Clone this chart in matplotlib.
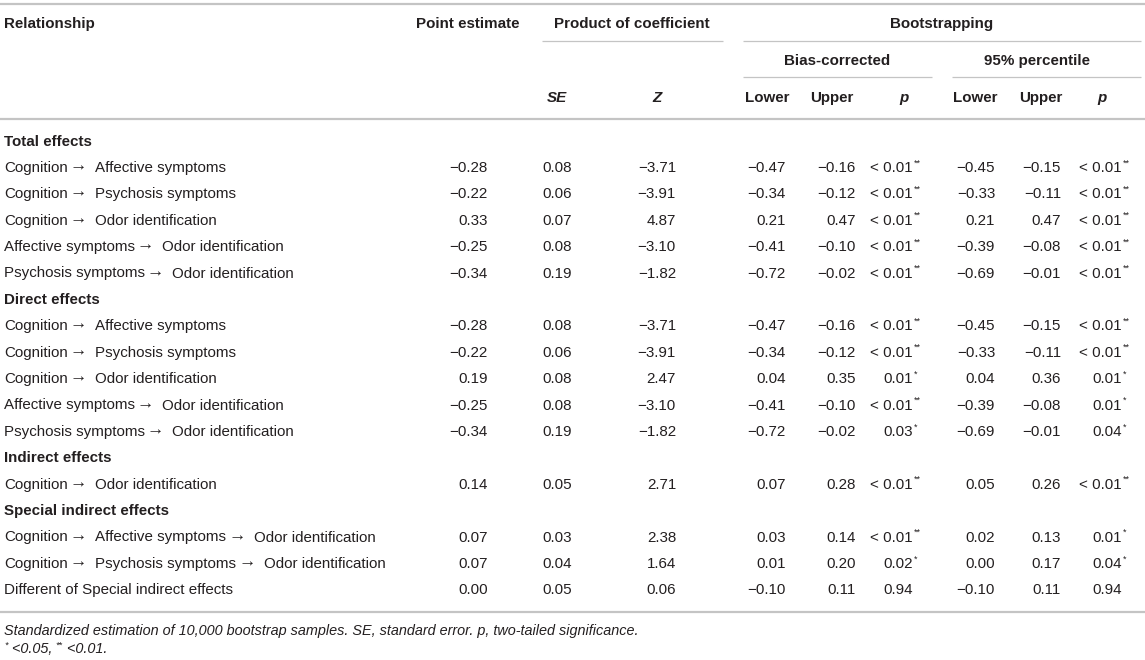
import matplotlib.pyplot as plt

FONT = ["Liberation Sans", "DejaVu Sans"]
plt.rcParams["font.family"] = FONT

TEXT_CLR = "#231f20"
LINE_CLR = "#c4c4c4"

# ---- table data -------------------------------------------------------------
sections = ["Total effects", "Direct effects", "Indirect effects",
            "Special indirect effects"]

relationships = [
    ["Cognition \u2192 Affective symptoms",
     "Cognition \u2192 Psychosis symptoms",
     "Cognition \u2192 Odor identification",
     "Affective symptoms \u2192 Odor identification",
     "Psychosis symptoms \u2192 Odor identification"],
    ["Cognition \u2192 Affective symptoms",
     "Cognition \u2192 Psychosis symptoms",
     "Cognition \u2192 Odor identification",
     "Affective symptoms \u2192 Odor identification",
     "Psychosis symptoms \u2192 Odor identification"],
    ["Cognition \u2192 Odor identification"],
    ["Cognition \u2192 Affective symptoms \u2192 Odor identification",
     "Cognition \u2192 Psychosis symptoms \u2192 Odor identification",
     "Different of Special indirect effects"],
]

point_est = [[-0.28, -0.22, 0.33, -0.25, -0.34],
             [-0.28, -0.22, 0.19, -0.25, -0.34],
             [0.14],
             [0.07, 0.07, 0.00]]
se = [[0.08, 0.06, 0.07, 0.08, 0.19],
      [0.08, 0.06, 0.08, 0.08, 0.19],
      [0.05],
      [0.03, 0.04, 0.05]]
z = [[-3.71, -3.91, 4.87, -3.10, -1.82],
     [-3.71, -3.91, 2.47, -3.10, -1.82],
     [2.71],
     [2.38, 1.64, 0.06]]
bc_lower = [[-0.47, -0.34, 0.21, -0.41, -0.72],
            [-0.47, -0.34, 0.04, -0.41, -0.72],
            [0.07],
            [0.03, 0.01, -0.10]]
bc_upper = [[-0.16, -0.12, 0.47, -0.10, -0.02],
            [-0.16, -0.12, 0.35, -0.10, -0.02],
            [0.28],
            [0.14, 0.20, 0.11]]
bc_p = [["< 0.01", "< 0.01", "< 0.01", "< 0.01", "< 0.01"],
        ["< 0.01", "< 0.01", "0.01", "< 0.01", "0.03"],
        ["< 0.01"],
        ["< 0.01", "0.02", "0.94"]]
bc_sig = [["**", "**", "**", "**", "**"],
          ["**", "**", "*", "**", "*"],
          ["**"],
          ["**", "*", ""]]
pc_lower = [[-0.45, -0.33, 0.21, -0.39, -0.69],
            [-0.45, -0.33, 0.04, -0.39, -0.69],
            [0.05],
            [0.02, 0.00, -0.10]]
pc_upper = [[-0.15, -0.11, 0.47, -0.08, -0.01],
            [-0.15, -0.11, 0.36, -0.08, -0.01],
            [0.26],
            [0.13, 0.17, 0.11]]
pc_p = [["< 0.01", "< 0.01", "< 0.01", "< 0.01", "< 0.01"],
        ["< 0.01", "< 0.01", "0.01", "0.01", "0.04"],
        ["< 0.01"],
        ["0.01", "0.04", "0.94"]]
pc_sig = [["**", "**", "**", "**", "**"],
          ["**", "**", "*", "*", "*"],
          ["**"],
          ["*", "*", ""]]

footnote = ("Standardized estimation of 10,000 bootstrap samples. "
            "SE, standard error. p, two-tailed significance.")


def fmt(v):
    s = f"{abs(v):.2f}"
    return "\u2212" + s if v < 0 else s


# ---- layout (pixel space) ---------------------------------------------------
W, H = 1145, 660
FS = 10.9

fig = plt.figure(figsize=(W / 100, H / 100), dpi=100)
ax = fig.add_axes([0, 0, 1, 1])
ax.set_xlim(0, W)
ax.set_ylim(H, 0)
ax.axis("off")
renderer = fig.canvas.get_renderer()


def txt(x, y, s, ha="left", weight="normal", style="normal", size=FS):
    return ax.text(x, y, s, ha=ha, va="center", fontsize=size,
                   color=TEXT_CLR, fontweight=weight, fontstyle=style)


def width(t):
    return t.get_window_extent(renderer).width


def rel_text(x, y, s):
    # arrow set apart and lifted to sit mid-height like the original
    parts = [p.strip() for p in s.split("\u2192")]
    for j, p in enumerate(parts):
        t = txt(x, y, p)
        x += width(t)
        if j < len(parts) - 1:
            x += 2
            a = txt(x, y - 1.8, "\u2192", size=12.5)
            x += width(a) + 8


def hline(y, x0, x1, lw):
    ax.plot([x0, x1], [y, y], color=LINE_CLR, lw=lw, solid_capstyle="butt")


# rules
hline(4, 0, W, 1.6)
hline(40.5, 542, 723, 0.9)
hline(40.5, 743, 1141, 0.9)
hline(77, 743, 932, 0.9)
hline(77, 952, 1141, 0.9)
hline(118.5, 0, W, 1.6)
hline(611.5, 0, W, 1.6)

# headers
txt(4, 24, "Relationship", weight="bold")
txt(468, 24, "Point estimate", ha="center", weight="bold")
txt(632, 24, "Product of coefficient", ha="center", weight="bold")
txt(942, 24, "Bootstrapping", ha="center", weight="bold")
txt(837, 61, "Bias-corrected", ha="center", weight="bold")
txt(1037, 61, "95% percentile", ha="center", weight="bold")
txt(557, 98, "SE", ha="center", weight="bold", style="italic")
txt(657, 98, "Z", ha="center", weight="bold", style="italic")
txt(767, 98, "Lower", ha="center", weight="bold")
txt(832, 98, "Upper", ha="center", weight="bold")
txt(904, 98, "p", ha="center", weight="bold", style="italic")
txt(975, 98, "Lower", ha="center", weight="bold")
txt(1041, 98, "Upper", ha="center", weight="bold")
txt(1102, 98, "p", ha="center", weight="bold", style="italic")

# body
num_cols = [(point_est, 488), (se, 572), (z, 676), (bc_lower, 786),
            (bc_upper, 856), (pc_lower, 995), (pc_upper, 1061)]
p_cols = [(bc_p, bc_sig, 913), (pc_p, pc_sig, 1122)]

y0, dy = 141.5, 26.4
row = 0
for k, sec in enumerate(sections):
    txt(4, y0 + row * dy, sec, weight="bold")
    row += 1
    for i, rel in enumerate(relationships[k]):
        y = y0 + row * dy
        rel_text(4, y, rel)
        for vals, xr in num_cols:
            txt(xr, y, fmt(vals[k][i]), ha="right")
        for pv, sig, xr in p_cols:
            txt(xr, y, pv[k][i], ha="right")
            if sig[k][i]:
                txt(xr + 1, y - 5, sig[k][i], size=6.5)
        row += 1

# footnotes
txt(4, 631, footnote, style="italic", size=10.4)
x = 4
parts = [("*", 6.5, -4), (" <0.05, ", 10.4, 0), ("**", 6.5, -4),
         (" <0.01.", 10.4, 0)]
for s, size, off in parts:
    t = txt(x, 649 + off, s, style="italic", size=size)
    x += width(t)

fig.savefig("out.png", dpi=100)
